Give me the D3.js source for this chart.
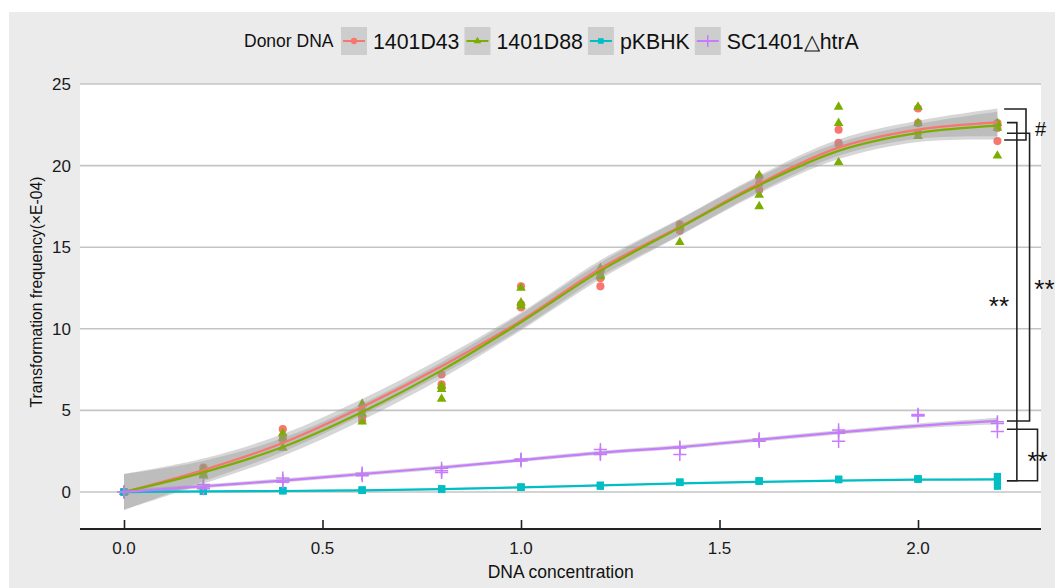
<!doctype html>
<html lang="en">
<head>
<meta charset="utf-8">
<script src="https://d3js.org/d3.v7.min.js"></script>
<style>
  body { margin: 0; background: #fff; }
  text { font-family: "Liberation Sans", Arial, sans-serif; }
</style>
</head>
<body>
<div id="chart"></div>
<script>
// DNA concentration steps
var xVals = [0, 0.2, 0.4, 0.6, 0.8, 1.0, 1.2, 1.4, 1.6, 1.8, 2.0, 2.2];

// replicate measurements (3 per concentration)
var d43Reps = [[0,0,0],[1.5,1.3,1.2],[3.85,3.4,3.2],[5.0,4.6,4.4],[7.2,6.6,6.4],[12.6,11.5,11.3],
  [13.5,13.1,12.6],[16.4,16.2,16.0],[19.3,18.9,18.5],[22.2,21.4,21.3],[23.5,22.6,22.0],[22.6,22.3,21.5]];
var d88Reps = [[0,0,0],[1.4,1.1,1.0],[3.6,3.3,2.7],[5.4,4.8,4.3],[6.5,6.3,5.7],[12.5,11.6,11.4],
  [13.7,13.3,13.2],[16.3,16.2,15.3],[19.4,18.2,17.5],[23.6,22.6,20.2],[23.6,22.6,21.8],[22.6,22.3,20.6]];
var pkbReps = [[0,0,0],[0.05,0.05,0.04],[0.08,0.07,0.09],[0.12,0.1,0.11],[0.18,0.17,0.19],[0.3,0.28,0.3],
  [0.42,0.35,0.38],[0.6,0.58,0.6],[0.67,0.66,0.68],[0.77,0.75,0.78],[0.8,0.78,0.8],[0.95,0.75,0.35]];
var htrReps = [[0,0,0],[0.45,0.3,0.2],[0.85,0.6,0.7],[1.15,1.0,1.1],[1.45,1.2,1.3],[2.0,1.9,2.0],
  [2.6,2.3,2.4],[2.75,2.3,2.7],[3.25,3.1,3.2],[3.8,3.1,3.6],[4.75,4.65,4.7],[4.2,3.7,4.3]];

// smoothed fit and its confidence half-width
var d43Fit = [0, 1.35, 3.0, 5.2, 7.7, 10.5, 13.7, 16.25, 18.9, 21.1, 22.2, 22.65];
var d88Fit = [0, 1.2, 2.75, 4.9, 7.45, 10.4, 13.55, 16.2, 18.8, 20.9, 22.0, 22.45];
var pkbFit = [0, 0.03, 0.06, 0.1, 0.17, 0.28, 0.4, 0.52, 0.62, 0.7, 0.75, 0.77];
var htrFit = [0, 0.35, 0.7, 1.1, 1.5, 1.95, 2.4, 2.75, 3.2, 3.65, 4.05, 4.35];
var d43Band = [1.1, 0.7, 0.55, 0.5, 0.5, 0.5, 0.5, 0.5, 0.5, 0.5, 0.55, 0.85];
var d88Band = [1.1, 0.7, 0.55, 0.5, 0.5, 0.5, 0.5, 0.5, 0.5, 0.5, 0.55, 0.85];
var pkbBand = [0.06, 0.05, 0.05, 0.05, 0.05, 0.05, 0.05, 0.05, 0.05, 0.05, 0.05, 0.06];
var htrBand = [0.15, 0.12, 0.12, 0.12, 0.12, 0.12, 0.12, 0.12, 0.12, 0.13, 0.15, 0.2];

var seriesNames = ["1401D43", "1401D88", "pKBHK", "SC1401\u25B3htrA"];
var seriesColors = ["#F8766D", "#7CAE00", "#00BFC4", "#C77CFF"];
var seriesShapes = ["circle", "triangle", "square", "plus"];

var yTicks = [0, 5, 10, 15, 20, 25];
var xTicks = [0, 0.5, 1.0, 1.5, 2.0];

// significance brackets in data units: [top, bottom, x of left ends, x of vertical]
var brackets = [
  { y1: 23.47, y2: 21.57, xl: 2.217, xv: 2.272, label: "#",  lx: 2.295, ly: 22.5, anchor: "start" },
  { y1: 22.63, y2: 0.69,  xl: 2.224, xv: 2.249, label: "**", lx: 2.204, ly: 11.7, anchor: "middle" },
  { y1: 21.98, y2: 4.35,  xl: 2.224, xv: 2.281, label: "**", lx: 2.293, ly: 12.75, anchor: "start" },
  { y1: 3.84,  y2: 0.69,  xl: 2.224, xv: 2.301, label: "**", lx: 2.301, ly: 2.25, anchor: "middle" }
];

var W = 1055, H = 588;
var panel = { left: 80, right: 1041, top: 84, bottom: 529 };

var svg = d3.select("#chart").append("svg")
  .attr("width", W).attr("height", H);

// grey plot background
svg.append("rect").attr("x", 9).attr("y", 12).attr("width", W - 9).attr("height", H - 12)
  .attr("fill", "#ebebeb");
svg.append("rect").attr("x", panel.left).attr("y", panel.top)
  .attr("width", panel.right - panel.left).attr("height", panel.bottom - panel.top)
  .attr("fill", "#fff");

var x = d3.scaleLinear().domain([-0.1108, 2.3098]).range([panel.left, panel.right]);
var y = d3.scaleLinear().domain([-2.27, 25]).range([panel.bottom, panel.top]);

// horizontal grid
svg.append("g").selectAll("line").data(yTicks).join("line")
  .attr("x1", panel.left).attr("x2", panel.right)
  .attr("y1", d => y(d)).attr("y2", d => y(d))
  .attr("stroke", "#c4c4c4").attr("stroke-width", 1.6);

// y labels
svg.append("g").selectAll("text").data(yTicks).join("text")
  .attr("x", 71).attr("y", d => y(d)).attr("dy", "0.36em")
  .attr("text-anchor", "end").attr("font-size", 17).attr("fill", "#1a1a1a")
  .text(d => d);

// x axis: line plus inward ticks
var xAxis = d3.axisTop(x).tickValues(xTicks).tickSize(9).tickFormat("");
var xg = svg.append("g").attr("transform", "translate(0," + panel.bottom + ")").call(xAxis);
xg.select(".domain").remove();
xg.selectAll(".tick line").attr("stroke", "#222").attr("stroke-width", 1.6);
svg.append("line").attr("x1", panel.left).attr("x2", panel.right)
  .attr("y1", panel.bottom).attr("y2", panel.bottom)
  .attr("stroke", "#222").attr("stroke-width", 1.8);

svg.append("g").selectAll("text").data(xTicks).join("text")
  .attr("x", d => x(d)).attr("y", 554)
  .attr("text-anchor", "middle").attr("font-size", 17).attr("fill", "#1a1a1a")
  .text(d => d3.format(".1f")(d));

svg.append("text").attr("x", x(1.1)).attr("y", 578).attr("text-anchor", "middle")
  .attr("font-size", 17.5).attr("fill", "#111").text("DNA concentration");

svg.append("text").attr("transform", "translate(42,292) rotate(-90)")
  .attr("text-anchor", "middle").attr("font-size", 15.7).attr("fill", "#111")
  .text("Transformation frequency(\u00D7E-04)");

// marker drawing helper
function drawShape(g, shape, color, size) {
  if (shape === "circle") {
    g.append("circle").attr("r", size * 0.45).attr("fill", color);
  } else if (shape === "triangle") {
    g.append("path").attr("d", d3.symbol(d3.symbolTriangle, size * size * 0.5)()).attr("fill", color);
  } else if (shape === "square") {
    g.append("rect").attr("x", -size * 0.4).attr("y", -size * 0.4)
      .attr("width", size * 0.8).attr("height", size * 0.8).attr("fill", color);
  } else {
    g.append("path").attr("d", "M" + (-size * 0.6) + ",0H" + (size * 0.6) + "M0," + (-size * 0.6) + "V" + (size * 0.6))
      .attr("stroke", color).attr("stroke-width", 1.5).attr("fill", "none");
  }
}

var allReps = [d43Reps, d88Reps, pkbReps, htrReps];
var allFits = [d43Fit, d88Fit, pkbFit, htrFit];
var allBands = [d43Band, d88Band, pkbBand, htrBand];

// points first, so the smooth band sits over them
allReps.forEach(function (reps, s) {
  var pts = [];
  reps.forEach(function (r, i) { r.forEach(function (v) { pts.push({ x: xVals[i], v: v }); }); });
  var g = svg.append("g");
  pts.forEach(function (p) {
    var m = g.append("g").attr("transform", "translate(" + x(p.x) + "," + y(p.v) + ")");
    drawShape(m, seriesShapes[s], seriesColors[s], s === 3 ? 11 : 9);
  });
});

// confidence bands
allFits.forEach(function (fit, s) {
  var band = allBands[s];
  var rows = xVals.map(function (xv, i) { return { x: xv, lo: fit[i] - band[i], hi: fit[i] + band[i] }; });
  svg.append("path").datum(rows)
    .attr("fill", "#999").attr("fill-opacity", 0.4)
    .attr("d", d3.area().curve(d3.curveCatmullRom)
      .x(d => x(d.x)).y0(d => y(d.lo)).y1(d => y(d.hi)));
});

// fitted lines
allFits.forEach(function (fit, s) {
  var rows = xVals.map(function (xv, i) { return { x: xv, v: fit[i] }; });
  svg.append("path").datum(rows)
    .attr("fill", "none").attr("stroke", seriesColors[s]).attr("stroke-width", 2.2)
    .attr("d", d3.line().curve(d3.curveCatmullRom).x(d => x(d.x)).y(d => y(d.v)));
});

// significance brackets
var bg = svg.append("g").attr("stroke", "#222").attr("stroke-width", 1.6).attr("fill", "none");
brackets.forEach(function (b) {
  bg.append("path").attr("d",
    "M" + x(b.xl) + "," + y(b.y1) + "H" + x(b.xv) + "V" + y(b.y2) + "H" + x(b.xl));
});
svg.append("g").selectAll("text").data(brackets).join("text")
  .attr("x", d => x(d.lx)).attr("y", d => y(d.ly)).attr("dy", "0.55em")
  .attr("text-anchor", d => d.anchor).attr("font-size", d => d.label === "#" ? 20 : 26)
  .attr("fill", "#111").text(d => d.label);

// legend
var leg = svg.append("g").attr("transform", "translate(0,41)");
leg.append("text").attr("x", 244).attr("y", 0).attr("dy", "0.36em")
  .attr("font-size", 17.5).attr("fill", "#111").text("Donor DNA");
var lx = 341;
seriesNames.forEach(function (name, s) {
  leg.append("rect").attr("x", lx).attr("y", -14).attr("width", 26).attr("height", 28).attr("fill", "#cdcdcd");
  leg.append("line").attr("x1", lx + 2).attr("x2", lx + 24).attr("y1", 0).attr("y2", 0)
    .attr("stroke", seriesColors[s]).attr("stroke-width", 2);
  var m = leg.append("g").attr("transform", "translate(" + (lx + 13) + ",0)");
  drawShape(m, seriesShapes[s], seriesColors[s], s === 3 ? 10 : 7);
  var t = leg.append("text").attr("x", lx + 32).attr("y", 0).attr("dy", "0.36em")
    .attr("font-size", 21.3).attr("fill", "#111").text(name);
  lx = lx + 32 + t.node().getComputedTextLength() + 5;
});
</script>
</body>
</html>
